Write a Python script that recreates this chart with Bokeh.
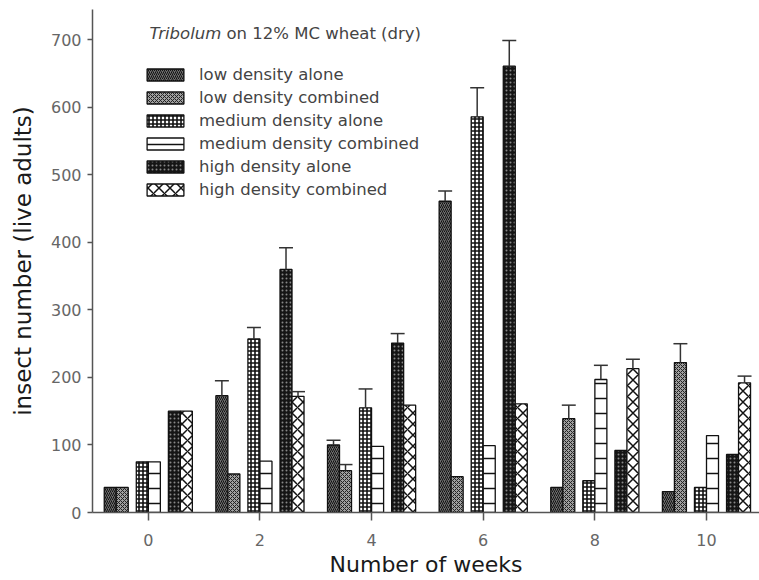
from bokeh.plotting import figure
from bokeh.models import ColumnDataSource, Legend, LegendItem, Label, FixedTicker, Range1d
from bokeh.embed import file_html
from bokeh.resources import INLINE

weeks = [0, 2, 4, 6, 8, 10]
series_names = ["low density alone", "low density combined", "medium density alone",
                "medium density combined", "high density alone", "high density combined"]
low_alone = [37, 173, 100, 461, 37, 31]
low_alone_se = [0, 22, 7, 15, 0, 0]
low_comb = [37, 57, 62, 53, 139, 222]
low_comb_se = [0, 0, 9, 0, 20, 28]
med_alone = [75, 257, 155, 586, 47, 37]
med_alone_se = [0, 17, 28, 43, 0, 0]
med_comb = [75, 76, 98, 99, 197, 114]
med_comb_se = [0, 0, 0, 0, 21, 0]
high_alone = [150, 360, 251, 661, 92, 86]
high_alone_se = [0, 32, 14, 38, 0, 0]
high_comb = [150, 172, 159, 161, 213, 192]
high_comb_se = [0, 7, 0, 0, 14, 10]
x_ticks = [0, 2, 4, 6, 8, 10]
y_ticks = [0, 100, 200, 300, 400, 500, 600, 700]

values = [low_alone, low_comb, med_alone, med_comb, high_alone, high_comb]
ses = [low_alone_se, low_comb_se, med_alone_se, med_comb_se, high_alone_se, high_comb_se]

offsets = [-0.682, -0.467, -0.108, 0.108, 0.467, 0.682]
bar_w = 0.215
cap_w = 0.25
styles = [
    dict(fill_color="#6e6e6e", hatch_pattern="right_diagonal_line", hatch_color="#111111", hatch_scale=4, hatch_weight=1),
    dict(fill_color="#a0a0a0", hatch_pattern="diagonal_cross", hatch_color="#222222", hatch_scale=4, hatch_weight=1),
    dict(fill_color="white", hatch_pattern="cross", hatch_color="#111111", hatch_scale=4, hatch_weight=1.6),
    dict(fill_color="white", hatch_pattern="horizontal_line", hatch_color="#111111", hatch_scale=15, hatch_weight=1.5),
    dict(fill_color="#151515", hatch_pattern="dot", hatch_color="#888888", hatch_scale=4, hatch_weight=1),
    dict(fill_color="white", hatch_pattern="diagonal_cross", hatch_color="#111111", hatch_scale=11, hatch_weight=1.5),
]

FONT = "DejaVu Sans"

p = figure(width=759, height=580, output_backend="svg", toolbar_location=None,
           x_range=Range1d(-1.0, 10.95), y_range=Range1d(0, 745),
           min_border_left=92, min_border_right=0, min_border_top=9, min_border_bottom=68)
p.outline_line_color = None
p.xgrid.grid_line_color = None
p.ygrid.grid_line_color = None
p.background_fill_color = "white"
p.border_fill_color = "white"

items = []
for i in range(6):
    xs = [w + offsets[i] for w in weeks]
    src = ColumnDataSource(dict(x=xs, top=values[i]))
    r = p.vbar(x="x", top="top", width=bar_w, bottom=0, source=src,
               line_color="#111111", line_width=1.3, **styles[i])
    items.append(LegendItem(label=series_names[i], renderers=[r]))
    ex = [xs[k] for k in range(6) if ses[i][k] > 0]
    ey0 = [values[i][k] for k in range(6) if ses[i][k] > 0]
    ey1 = [values[i][k] + ses[i][k] for k in range(6) if ses[i][k] > 0]
    if ex:
        esrc = ColumnDataSource(dict(x=ex, y0=ey0, y1=ey1,
                                     xl=[x - cap_w / 2 for x in ex], xr=[x + cap_w / 2 for x in ex]))
        p.segment(x0="x", y0="y0", x1="x", y1="y1", source=esrc, line_color="#333333", line_width=1.5)
        p.segment(x0="xl", y0="y1", x1="xr", y1="y1", source=esrc, line_color="#333333", line_width=1.5)

legend = Legend(items=items, location=(50, 313), padding=0, margin=0, spacing=4,
                glyph_width=46, glyph_height=15, label_height=15, label_standoff=11,
                background_fill_alpha=0, border_line_color=None,
                label_text_font=FONT, label_text_font_size="16.5px", label_text_color="#444444")
p.add_layout(legend, "center")

p.add_layout(Label(x=0.02, y=709, text="Tribolum", text_font=FONT, text_font_style="italic",
                   text_font_size="16.5px", text_color="#444444", text_baseline="middle"))
p.add_layout(Label(x=1.40, y=709, text="on 12% MC wheat (dry)", text_font=FONT,
                   text_font_size="16.5px", text_color="#444444", text_baseline="middle"))

p.xaxis.ticker = FixedTicker(ticks=x_ticks)
p.yaxis.ticker = FixedTicker(ticks=y_ticks)
for ax in (p.xaxis[0], p.yaxis[0]):
    ax.axis_line_color = "#555555"
    ax.axis_line_width = 1.5
    ax.major_tick_line_color = "#555555"
    ax.major_tick_line_width = 1.5
    ax.minor_tick_line_color = None
    ax.major_tick_in = 0
    ax.major_label_text_font = FONT
    ax.major_label_text_font_size = "16px"
    ax.major_label_text_color = "#666666"
    ax.axis_label_text_font = FONT
    ax.axis_label_text_font_style = "normal"
    ax.axis_label_text_color = "#1a1a1a"
p.xaxis.axis_label_text_font_size = "22px"
p.yaxis.axis_label_text_font_size = "23px"
p.xaxis.major_tick_out = 8
p.yaxis.major_tick_out = 5
p.xaxis.major_label_standoff = 13
p.yaxis.major_label_standoff = 6
p.xaxis.axis_label = "Number of weeks"
p.yaxis.axis_label = "insect number (live adults)"
p.xaxis.axis_label_standoff = 3
p.yaxis.axis_label_standoff = 12

open("out.html", "w").write(file_html(p, INLINE))
